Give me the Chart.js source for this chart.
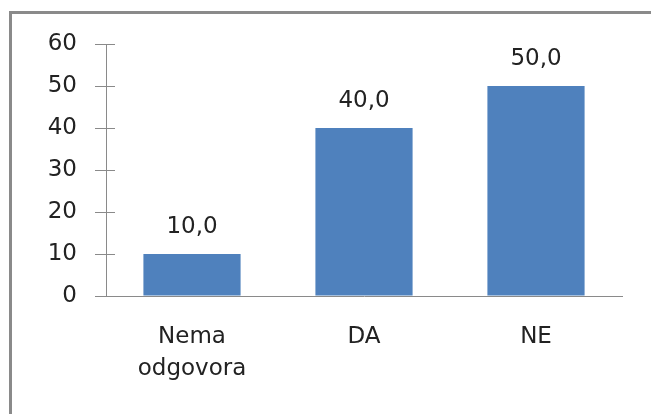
<!DOCTYPE html>
<html>
<head>
<meta charset="utf-8">
<script src="https://cdn.jsdelivr.net/npm/chart.js@4.4.0/dist/chart.umd.min.js"></script>
<style>
  html, body { margin: 0; padding: 0; background: #fff; overflow: hidden; }
  #frame {
    position: absolute; left: 9px; top: 11px; width: 700px; height: 500px;
    border-left: 3px solid #8a8a8a; border-top: 3px solid #8a8a8a;
  }
  #myChart { position: absolute; left: 0; top: 0; }
</style>
</head>
<body>
<div id="frame"></div>
<canvas id="myChart" width="651" height="414"></canvas>
<script>
var categories = [["Nema", "odgovora"], "DA", "NE"];
var values = [10, 40, 50];
var yTicks = [0, 10, 20, 30, 40, 50, 60];

var axisColor = '#8a8a8a';
var textColor = '#222222';
var fontFamily = '"DejaVu Sans", Verdana, sans-serif';

// inner half of the y tick marks (Chart.js only draws the outer half)
var innerTicks = {
    id: 'innerTicks',
    afterDraw: function (chart) {
        var y = chart.scales.y;
        var ctx = chart.ctx;
        ctx.save();
        ctx.strokeStyle = axisColor;
        ctx.lineWidth = 1;
        y.ticks.forEach(function (t) {
            var py = Math.round(y.getPixelForValue(t.value)) + 0.5;
            ctx.beginPath();
            ctx.moveTo(chart.chartArea.left, py);
            ctx.lineTo(chart.chartArea.left + 9, py);
            ctx.stroke();
        });
        ctx.restore();
    }
};

// value labels above each bar
var valueLabels = {
    id: 'valueLabels',
    afterDatasetsDraw: function (chart) {
        var ctx = chart.ctx;
        var meta = chart.getDatasetMeta(0);
        ctx.save();
        ctx.font = '23px ' + fontFamily;
        ctx.fillStyle = textColor;
        ctx.textAlign = 'center';
        ctx.textBaseline = 'alphabetic';
        meta.data.forEach(function (bar, i) {
            var txt = values[i].toFixed(1).replace('.', ',');
            ctx.fillText(txt, bar.x, bar.y - 21);
        });
        ctx.restore();
    }
};

var ctx = document.getElementById('myChart').getContext('2d');
var chart = new Chart(ctx, {
    type: 'bar',
    data: {
        labels: categories,
        datasets: [{
            data: values,
            backgroundColor: '#4f81bd',
            borderWidth: 0,
            categoryPercentage: 1,
            barPercentage: 0.565
        }]
    },
    options: {
        responsive: false,
        animation: false,
        layout: { padding: { left: 0, right: 29, top: 44, bottom: 0 } },
        plugins: {
            legend: { display: false },
            tooltip: { enabled: false }
        },
        scales: {
            x: {
                grid: { display: false, drawTicks: false },
                border: { display: true, color: axisColor, width: 1 },
                ticks: {
                    color: textColor,
                    padding: 25,
                    maxRotation: 0,
                    font: { family: fontFamily, size: 23, lineHeight: '32px' }
                },
                afterFit: function (scale) { scale.height = 118; }
            },
            y: {
                min: 0,
                max: 60,
                afterBuildTicks: function (scale) {
                    scale.ticks = yTicks.map(function (v) { return { value: v }; });
                },
                grid: {
                    drawOnChartArea: false,
                    drawTicks: true,
                    tickLength: 11,
                    color: axisColor
                },
                border: { display: true, color: axisColor, width: 1 },
                ticks: {
                    color: textColor,
                    padding: 18,
                    font: { family: fontFamily, size: 23 }
                },
                afterFit: function (scale) { scale.width = 106; }
            }
        }
    },
    plugins: [innerTicks, valueLabels]
});
</script>
</body>
</html>
